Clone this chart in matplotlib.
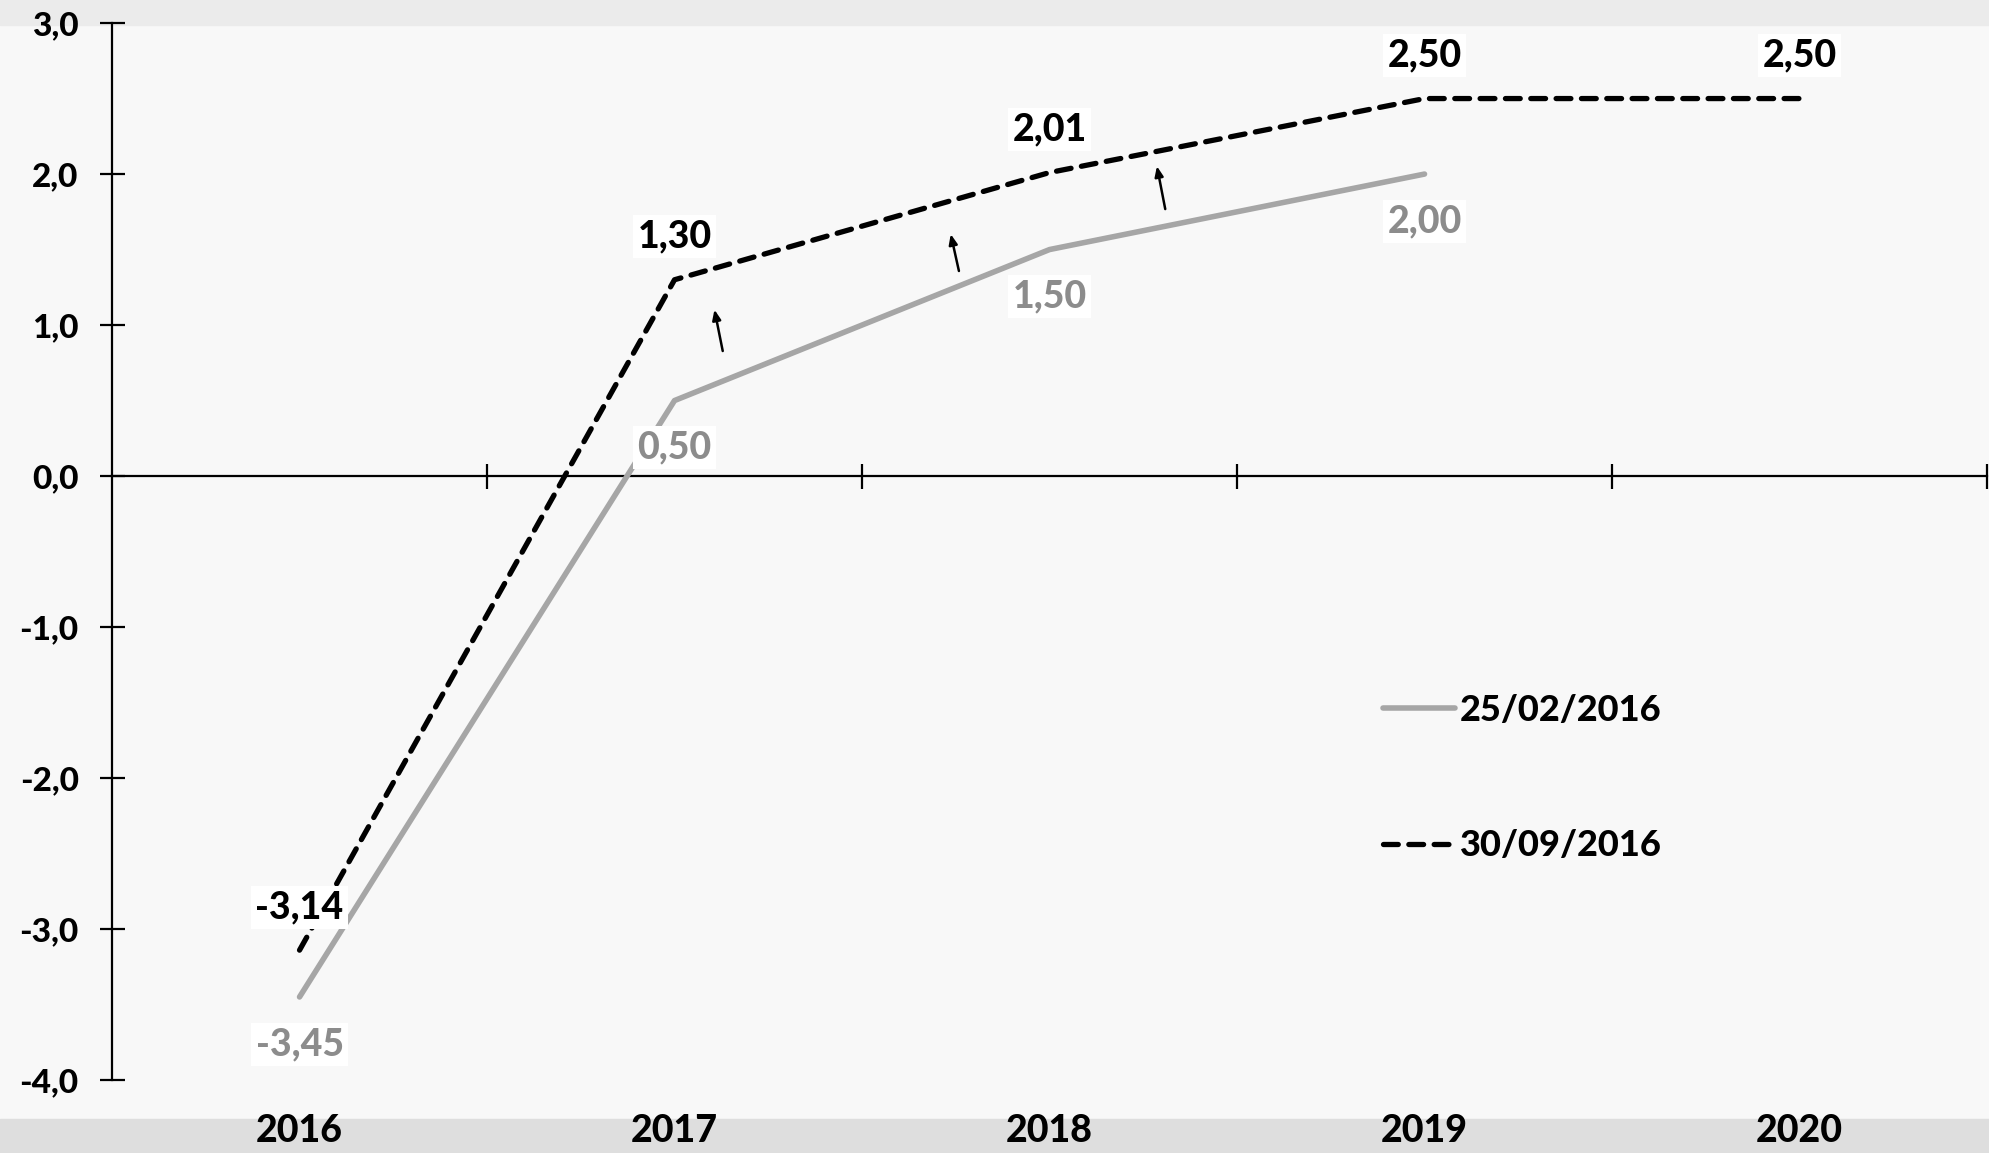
import numpy as np
import matplotlib
matplotlib.use("Agg")
import matplotlib.pyplot as plt
from matplotlib.patches import Rectangle
from matplotlib.ticker import FuncFormatter

# data
years = ["2016", "2017", "2018", "2019", "2020"]
feb_vals = [-3.45, 0.50, 1.50, 2.00]          # 25/02/2016
sep_vals = [-3.14, 1.30, 2.01, 2.50, 2.50]    # 30/09/2016
feb_label = "25/02/2016"
sep_label = "30/09/2016"
# revision arrows: x position, start, end
arrow_x = [1.13, 1.76, 2.31]
arrow_y0 = [0.81, 1.34, 1.75]
arrow_y1 = [1.12, 1.62, 2.07]

plt.rcParams['font.family'] = ['Lato', 'DejaVu Sans']
plt.rcParams['font.weight'] = 'bold'

gray_line = '#a6a6a6'
gray_text = '#8c8c8c'

fig = plt.figure(figsize=(19.9, 11.53), dpi=100, facecolor='#f8f8f8')
# background bands
fig.patches.append(Rectangle((0, 1 - 25 / 1153), 1, 25 / 1153, transform=fig.transFigure,
                             color='#ebebeb', zorder=-10))
fig.patches.append(Rectangle((0, 0), 1, 34 / 1153, transform=fig.transFigure,
                             color='#dedede', zorder=-10))

ax = fig.add_axes([0.0563, 0.0633, 0.9422, 0.9167])
ax.set_facecolor('none')

x_feb = np.arange(len(feb_vals))
x_sep = np.arange(len(sep_vals))

ax.plot(x_feb, feb_vals, color=gray_line, lw=4.0, solid_capstyle='round',
        label=feb_label, zorder=3)
ax.plot(x_sep, sep_vals, color='black', lw=3.8, linestyle=(0, (2.8, 2.0)),
        dash_capstyle='round', label=sep_label, zorder=3)

box = dict(boxstyle='square,pad=0.12', fc='white', ec='none')
fmt = lambda v: ('%.2f' % v).replace('.', ',')
for x, v in zip(x_sep, sep_vals):
    ax.annotate(fmt(v), (x, v), xytext=(0, 31), textcoords='offset points',
                ha='center', va='center', fontsize=27, fontweight='black',
                color='black', bbox=box, zorder=4)
for x, v in zip(x_feb, feb_vals):
    ax.annotate(fmt(v), (x, v), xytext=(0, -34), textcoords='offset points',
                ha='center', va='center', fontsize=27, fontweight='black',
                color=gray_text, bbox=box, zorder=4)

for x, y0, y1 in zip(arrow_x, arrow_y0, arrow_y1):
    ax.annotate('', xy=(x - 0.025, y1), xytext=(x, y0),
                arrowprops=dict(arrowstyle='-|>,head_length=0.6,head_width=0.25',
                                color='black', lw=1.8), zorder=5)

ax.set_xlim(-0.5, 4.5)
ax.set_ylim(-4, 3)

for s in ['top', 'right']:
    ax.spines[s].set_visible(False)
ax.spines['bottom'].set_position(('data', 0))
ax.spines['left'].set_linewidth(1.6)
ax.spines['bottom'].set_linewidth(1.6)

ax.set_yticks(np.arange(-4, 4, 1))
ax.yaxis.set_major_formatter(FuncFormatter(lambda v, p: ('%.1f' % v).replace('.', ',')))
ax.tick_params(axis='y', direction='inout', length=18, width=1.6, pad=15, labelsize=24)
for t in ax.get_yticklabels():
    t.set_fontweight('black')

ax.set_xticks(np.arange(len(years)))
ax.set_xticklabels([])
ax.tick_params(axis='x', which='major', length=0)
ax.set_xticks(np.arange(len(years)) + 0.5, minor=True)
ax.tick_params(axis='x', which='minor', direction='inout', length=18, width=1.6)

for i, yr in enumerate(years):
    ax.text(i, -0.048, yr, transform=ax.get_xaxis_transform(), ha='center', va='center',
            fontsize=27, fontweight='black', clip_on=False)

ax.legend(loc='center left', bbox_to_anchor=(1350 / 1990, 1 - 778 / 1153),
          bbox_transform=fig.transFigure, frameon=False,
          handlelength=2.0, handletextpad=0.15, labelspacing=2.85,
          prop={'weight': 'black', 'size': 26})

fig.savefig('out.png', dpi=100, facecolor=fig.get_facecolor())
